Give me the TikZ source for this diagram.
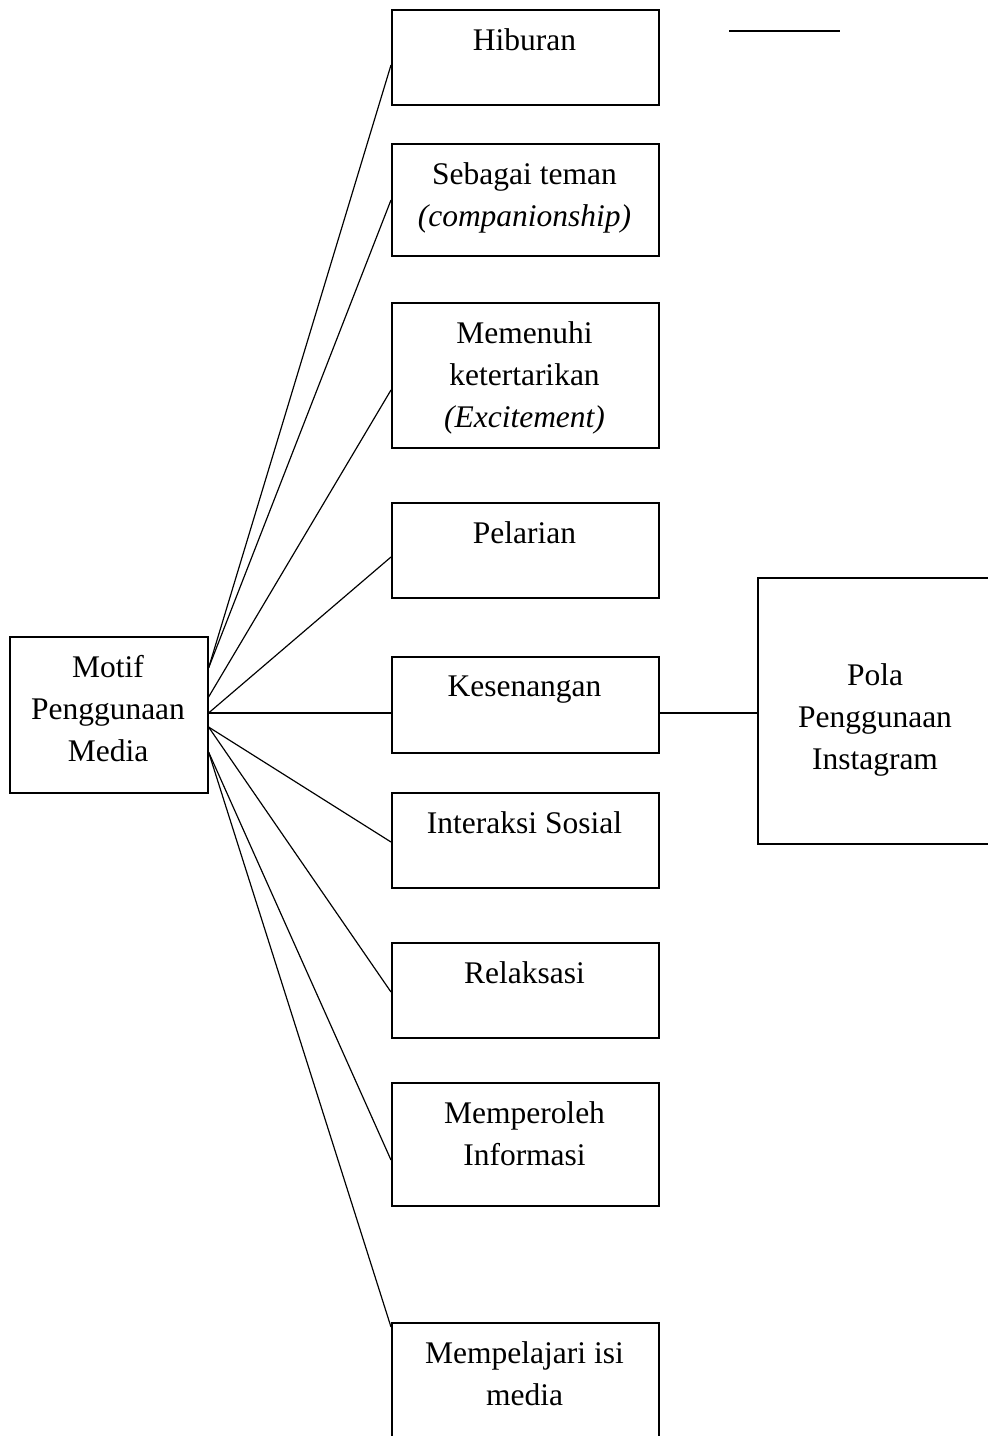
\documentclass[tikz,border=0pt]{standalone}
\usepackage{fontspec}
\setmainfont{Liberation Serif}
\usetikzlibrary{calc}
\tikzset{box/.style = {draw, line width=0.6pt, anchor=north west, inner sep=0}}
\tikzset{txt/.style = {anchor=north, align=center, inner sep=0,
                       font=\fontsize{12}{16}\selectfont}}
\tikzset{link/.style = {line width=0.45pt}}

\begin{document}
\begin{tikzpicture}[x=0.381pt, y=-0.381pt]
    \useasboundingbox (0, 0) rectangle (988, 1436);
    \clip (0, 0) rectangle (988, 1436);

    % left and right boxes
    \node [box, minimum width=198*0.381pt, minimum height=156*0.381pt] (motif) at (9, 636) {};
    \node [txt] (motifT) at (108, 655) {Motif\\Penggunaan\\Media};
    \node [box, minimum width=236*0.381pt, minimum height=266*0.381pt] (pola) at (757, 577) {};
    \node [txt] (polaT) at (875, 663) {Pola\\Penggunaan\\Instagram};

    % middle column
    \foreach \n/\t/\h/\lbl in {hib/9/95/Hiburan,
        teman/143/112/{Sebagai teman\\\textit{(companionship)}},
        minat/302/145/{Memenuhi\\ketertarikan\\\textit{(Excitement)}},
        lari/502/95/Pelarian,
        senang/656/96/Kesenangan,
        sosial/792/95/Interaksi Sosial,
        relaks/942/95/Relaksasi,
        info/1082/123/{Memperoleh\\Informasi},
        isi/1322/140/{Mempelajari isi\\media}} {
      \node [box, minimum width=267*0.381pt, minimum height=\h*0.381pt] (\n) at (391, \t) {};
      \node [txt] (\n T) at (524.5, \t+19) {\lbl};
    }

    \foreach \n/\s/\e in {hib/32/56, teman/32/57, minat/61/88, lari/77/55, senang/77/57,
                          sosial/91/50, relaks/91/50, info/116/78, isi/116/5} {
      \draw [link] ($(motif.north east)+(0, \s)$) -- ($(\n.north west)+(0, \e)$);
    }
    \draw [link] ($(senang.north east)+(0, 57)$) -- ($(pola.north west)+(0, 136)$);

    \coordinate (barL) at (729, 31);
    \coordinate (barR) at (840, 31);
    \draw [line width=0.6pt] (barL) -- (barR);
  \end{tikzpicture}
\end{document}
